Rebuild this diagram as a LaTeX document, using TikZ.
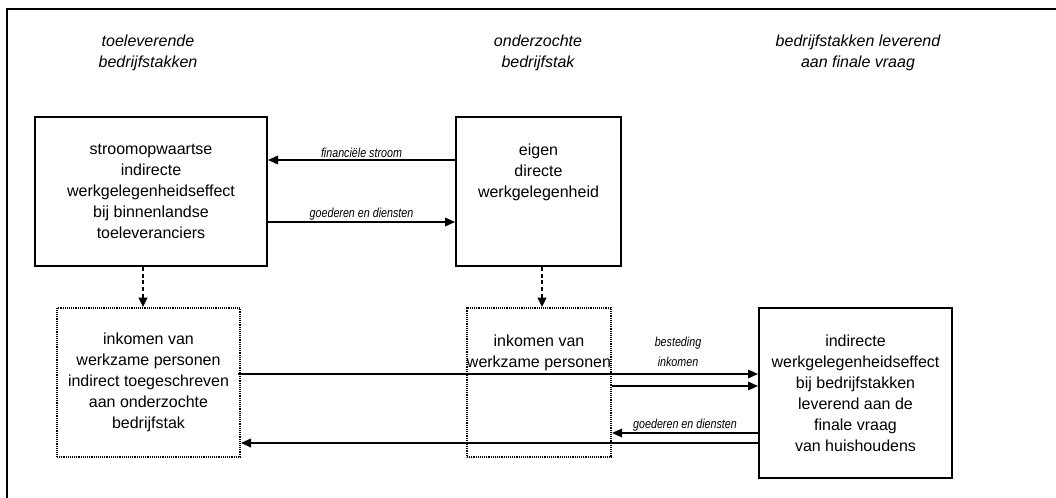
\documentclass[tikz,border=0pt]{standalone}
\usepackage{fontspec}
\setmainfont{Liberation Sans}
\newfontfamily\smalnarrow[FakeStretch=0.82]{Liberation Sans}
\usepackage{tikz}
\usetikzlibrary{arrows.meta,calc}
\tikzset{
	blok/.style={draw, line width=1.5pt, align=center, inner sep=0pt, font=\fontsize{12}{15.8}\selectfont},
	stippelblok/.style={blok, line width=1.5pt, dash pattern=on 0.7pt off 0.7pt},
	kop/.style={align=center, font=\fontsize{12}{15.5}\selectfont\itshape},
	stroomlabel/.style={inner sep=1pt, font=\smalnarrow\itshape\fontsize{9.8}{15}\selectfont},
	pijl/.style={line width=1.1pt, -{Triangle[length=7.5pt,width=6.5pt]}},
	stippelpijl/.style={line width=1.5pt, dash pattern=on 3pt off 2pt, -{Triangle[length=7pt,width=6.5pt]}}
}

\begin{document}
\begin{tikzpicture}[x=0.75pt, y=-0.75pt]
			%%%%% START %%%%%
			\useasboundingbox (0,0) rectangle (1056,498);
			
			% kader
			\draw[line width=1.5pt] (7,498) -- (7,9) -- (1056,9);
			
			% koppen
			\node[kop] (kopToel) at (148,53) {toeleverende\\bedrijfstakken};
			\node[kop] (kopOnd) at (538,53) {onderzochte\\bedrijfstak};
			\node[kop] (kopFin) at (858,53) {bedrijfstakken leverend\\aan finale vraag};
			
			% blokken
			\node[blok, minimum width=174pt, minimum height=111.75pt] (toel) at (151,191.5) {stroomopwaartse\\indirecte\\werkgelegenheidseffect\\bij binnenlandse\\toeleveranciers};
			\node[blok, minimum width=123.75pt, minimum height=111.75pt] (eigen) at (538.5,191.5) {eigen\\directe\\werkgelegenheid\\~\\~};
			\node[stippelblok, minimum width=137.25pt, minimum height=111.75pt] (inkInd) at (148.5,382.5) {inkomen van\\werkzame personen\\indirect toegeschreven\\aan onderzochte\\bedrijfstak};
			\node[stippelblok, minimum width=102pt, minimum height=111.75pt] (inkDir) at (539,382.5) {inkomen van\\werkzame personen\\~\\~\\~};
			\node[blok, minimum width=144.75pt, minimum height=127.5pt] (finaal) at (855.5,393) {indirecte\\werkgelegenheidseffect\\bij bedrijfstakken\\leverend aan de\\finale vraag\\van huishoudens};
			
			% stromen boven
			\draw[pijl] (eigen.west |- 0,160) -- node[stroomlabel, above] (finStroom) {financiële stroom} (toel.east |- 0,160);
			\draw[pijl] (toel.east |- 0,222) -- node[stroomlabel, above] (goedBoven) {goederen en diensten} (eigen.west |- 0,222);
			
			% inkomens
			\draw[stippelpijl] (toel.south -| 143,0) -- (inkInd.north -| 143,0);
			\draw[stippelpijl] (eigen.south -| 542,0) -- (inkDir.north -| 542,0);
			
			% stromen onder
			\draw[pijl] ($(inkInd.east |- 0,374)+(-3,0)$) -- (finaal.west |- 0,374);
			\draw[pijl] (inkDir.east |- 0,386) -- (finaal.west |- 0,386);
			\node[stroomlabel, align=center] (besteding) at (678,352) {besteding\\inkomen};
			\draw[pijl] (finaal.west |- 0,433) -- node[stroomlabel, above] (goedOnder) {goederen en diensten} (inkDir.east |- 0,433);
			\draw[pijl] (finaal.west |- 0,443) -- (inkInd.east |- 0,443);
			
			%%%%% END %%%%%
\end{tikzpicture}
\end{document}
